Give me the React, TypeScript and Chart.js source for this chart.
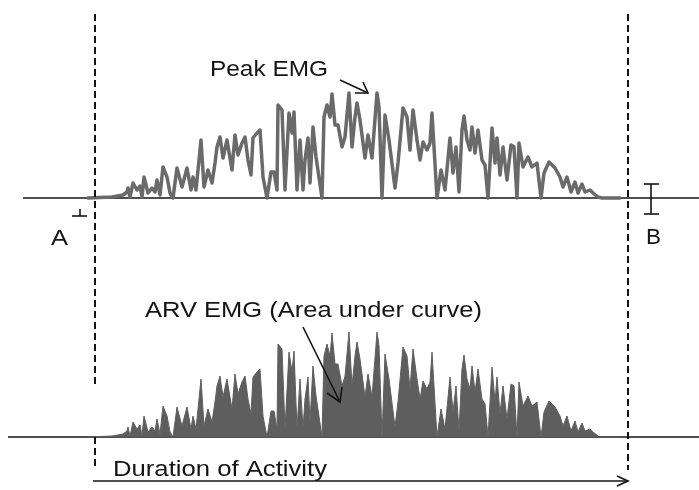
import React, { useEffect, useRef } from "react";
import { Chart, registerables } from "chart.js";

Chart.register(...registerables);

// time (ms from onset) of each sample of the rectified EMG trace
const TIME_MS = [
  -7, 17, 28, 32, 33, 35, 38, 42, 45, 47, 49, 53, 57, 60, 62, 65, 68, 72, 75, 78,
  82, 87, 92, 96, 98, 101, 106, 109, 113, 117, 120, 122, 125, 128, 132, 137, 140, 143, 147, 150,
  153, 156, 158, 162, 165,
  168, 172, 176, 179, 182, 183, 187, 190, 194, 197, 199, 202, 205, 208, 210, 213, 215, 218, 221, 227,
  229, 232, 235, 237, 240, 243, 247, 250, 254, 257, 260, 262, 265, 270, 273, 277, 282, 284, 287, 290,
  294, 300, 303, 308, 312, 315, 318, 322, 325, 328, 332, 335,
  337, 342, 346, 350, 355, 358, 361, 364, 367, 369, 372, 375, 377, 380, 383, 387, 390, 393, 397, 400,
  402, 405, 408, 412, 416, 419, 422, 424, 428, 433, 437, 442, 446, 449, 454, 460, 465, 468, 472, 476,
  480, 483, 487, 490, 495, 498, 503, 507, 525,
];

// amplitude of the rectified EMG (arbitrary units)
const EMG_AMP = [
  0, 1, 3, 6, 10, 1, 15, 8, 12, 1, 21, 5, 10, 6, 18, 3, 31, 21, 5, 0,
  30, 11, 30, 8, 21, 8, 58, 11, 28, 15, 35, 51, 61, 40, 58, 28, 63, 43, 55, 61,
  38, 23, 60, 65, 68,
  21, 0, 26, 26, 8, 93, 88, 8, 85, 65, 86, 8, 58, 8, 38, 60, 15, 71, 41, 0,
  81, 93, 81, 104, 73, 73, 51, 61, 105, 51, 81, 95, 78, 40, 63, 40, 105, 91, 0, 83,
  58, 10, 35, 90, 81, 48, 88, 58, 38, 56, 48, 55,
  85, 0, 28, 8, 60, 25, 51, 6, 68, 82, 58, 48, 71, 45, 68, 38, 33, 0, 70, 35,
  60, 23, 51, 18, 53, 51, 0, 55, 31, 41, 31, 35, 0, 25, 36, 30, 21, 11, 21, 6,
  16, 5, 14, 6, 8, 5, 1, 0, 0,
];

const ONSET_MS = 0;
const OFFSET_MS = 533;

const LABEL_PEAK = "Peak EMG";
const LABEL_ARV = "ARV EMG (Area under curve)";
const LABEL_DURATION = "Duration of Activity";
const LABEL_A = "A";
const LABEL_B = "B";

const FONT = "22px 'Liberation Sans', Arial, Helvetica, sans-serif";
const INK = "#141414";

function stretchedText(ctx: CanvasRenderingContext2D, text: string, left: number, baseline: number, width: number) {
  ctx.save();
  ctx.font = FONT;
  ctx.fillStyle = INK;
  ctx.textBaseline = "alphabetic";
  ctx.textAlign = "left";
  const w = ctx.measureText(text).width;
  ctx.translate(left, baseline);
  ctx.scale(width / w, 1);
  ctx.fillText(text, 0, 0);
  ctx.restore();
}

function seg(ctx: CanvasRenderingContext2D, x1: number, y1: number, x2: number, y2: number) {
  ctx.beginPath();
  ctx.moveTo(x1, y1);
  ctx.lineTo(x2, y2);
  ctx.stroke();
}

function arrow(ctx: CanvasRenderingContext2D, x1: number, y1: number, x2: number, y2: number, bx1: number, by1: number, bx2: number, by2: number) {
  seg(ctx, x1, y1, x2, y2);
  ctx.beginPath();
  ctx.moveTo(bx1, by1);
  ctx.lineTo(x2, y2);
  ctx.lineTo(bx2, by2);
  ctx.stroke();
}

const annotations = {
  id: "emgAnnotations",
  beforeDatasetsDraw(chart: any) {
    const { ctx, scales } = chart;
    const yTop = scales.yTop, yBot = scales.yBot;
    ctx.save();
    ctx.strokeStyle = INK;
    ctx.lineWidth = 1.6;
    const top0 = yTop.getPixelForValue(0);
    const bot0 = yBot.getPixelForValue(0);
    seg(ctx, 23, top0, chart.width, top0);
    seg(ctx, 8, bot0, chart.width, bot0);
    ctx.restore();
  },
  afterDatasetsDraw(chart: any) {
    const { ctx, scales } = chart;
    const x = scales.x, yBot = scales.yBot;
    const xOn = x.getPixelForValue(ONSET_MS);
    const xOff = x.getPixelForValue(OFFSET_MS);
    const bot0 = yBot.getPixelForValue(0);
    ctx.save();
    ctx.strokeStyle = INK;
    // dashed onset / offset markers
    ctx.lineWidth = 2;
    ctx.setLineDash([7, 4]);
    seg(ctx, xOn, 14, xOn, 386);
    seg(ctx, xOn, bot0, xOn, 470);
    seg(ctx, xOff, 14, xOff, 470);
    ctx.setLineDash([]);

    ctx.lineWidth = 1.6;
    // A marker (⊥)
    seg(ctx, 80, 209, 80, 216);
    seg(ctx, 72, 216, 87, 216);
    // B marker (I-beam)
    seg(ctx, 651, 184, 651, 214);
    seg(ctx, 644, 184, 659, 184);
    seg(ctx, 644, 214, 659, 214);

    // arrows
    arrow(ctx, 340, 80, 368, 93, 355, 93, 363, 82);
    arrow(ctx, 303, 327, 340, 402, 327, 393, 342, 387);
    arrow(ctx, xOn - 2, 481, xOff, 481, xOff - 11, 476, xOff - 11, 486);
    ctx.restore();

    stretchedText(ctx, LABEL_PEAK, 210, 76, 118);
    stretchedText(ctx, LABEL_ARV, 145, 317, 337);
    stretchedText(ctx, LABEL_DURATION, 113, 476, 214);
    stretchedText(ctx, LABEL_A, 51, 245, 17);
    stretchedText(ctx, LABEL_B, 646, 244, 15);
  },
};

export default function App() {
  const ref = useRef<HTMLCanvasElement>(null);
  useEffect(() => {
    document.body.style.margin = "0";
    const points = TIME_MS.map((t, i) => ({ x: t, y: EMG_AMP[i] }));
    const chart = new Chart(ref.current as HTMLCanvasElement, {
      type: "line",
      data: {
        datasets: [
          {
            label: "Raw EMG",
            data: points,
            yAxisID: "yTop",
            borderColor: "#6a6a6a",
            borderWidth: 3.5,
            borderJoinStyle: "round",
            borderCapStyle: "round",
            pointRadius: 0,
            tension: 0,
            fill: false,
          },
          {
            label: "ARV EMG",
            data: points,
            yAxisID: "yBot",
            borderColor: "#5e5e5e",
            backgroundColor: "#5e5e5e",
            borderWidth: 1,
            pointRadius: 0,
            tension: 0,
            fill: "origin",
          },
        ],
      },
      options: {
        responsive: false,
        animation: false,
        events: [],
        layout: { padding: 0 },
        plugins: { legend: { display: false }, tooltip: { enabled: false } },
        scales: {
          x: { type: "linear", min: -95, max: 604, display: false },
          yTop: { type: "linear", min: -292, max: 198, display: false },
          yBot: { type: "linear", min: -53, max: 437, display: false },
        },
      },
      plugins: [annotations],
    } as any);
    return () => chart.destroy();
  }, []);
  return (
    <div style={{ width: 699, height: 490, background: "#fff" }}>
      <canvas ref={ref} width={699} height={490} style={{ display: "block" }} />
    </div>
  );
}
